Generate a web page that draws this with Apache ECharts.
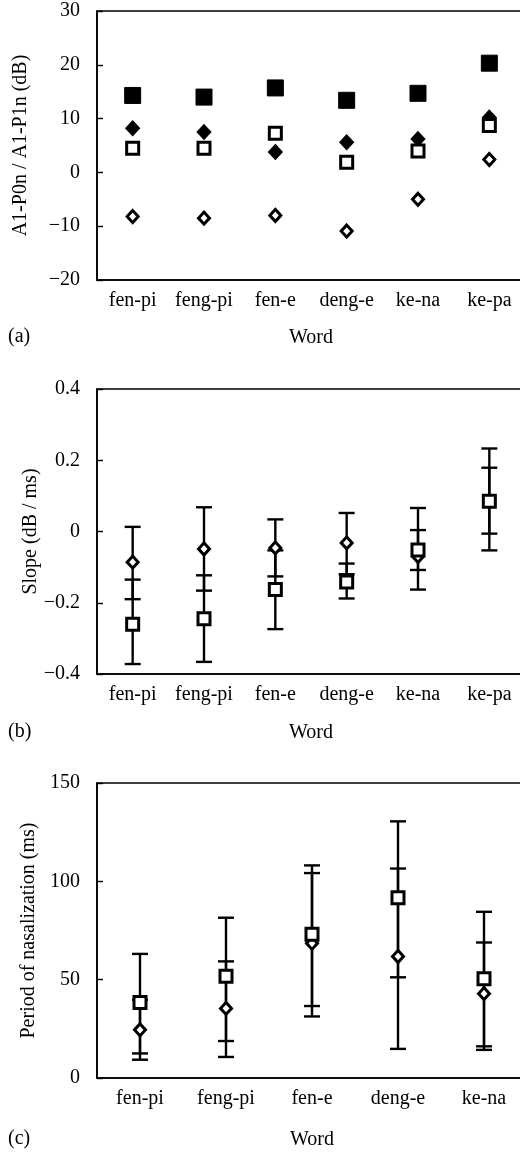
<!DOCTYPE html>
<html>
<head>
<meta charset="utf-8">
<script src="https://cdn.jsdelivr.net/npm/echarts@6/dist/echarts.min.js"></script>
<style>
  html, body { margin: 0; padding: 0; background: #fff; }
  #chart { width: 520px; height: 1153px; }
</style>
</head>
<body>
<div id="chart"></div>
<script>
// ---------- data ----------
const wordsAB = ['fen-pi', 'feng-pi', 'fen-e', 'deng-e', 'ke-na', 'ke-pa'];
const wordsC = ['fen-pi', 'feng-pi', 'fen-e', 'deng-e', 'ke-na'];

// panel (a): A1-P0n / A1-P1n (dB)
const aFilledSquare = [14.3, 14.0, 15.7, 13.4, 14.7, 20.3];
const aFilledDiamond = [8.2, 7.5, 3.8, 5.6, 6.2, 10.2];
const aOpenSquare = [4.5, 4.5, 7.3, 1.9, 4.0, 8.7];
const aOpenDiamond = [-8.2, -8.5, -8.0, -10.9, -5.0, 2.4];

// panel (b): slope (dB/ms), mean with low/high bar ends
const bDiamond = [-0.086, -0.049, -0.046, -0.032, -0.07, 0.085];
const bDiamondLow = [-0.19, -0.166, -0.126, -0.12, -0.163, -0.053];
const bDiamondHigh = [0.013, 0.068, 0.034, 0.052, 0.066, 0.233];
const bSquare = [-0.26, -0.245, -0.163, -0.142, -0.052, 0.085];
const bSquareLow = [-0.372, -0.366, -0.274, -0.188, -0.108, -0.006];
const bSquareHigh = [-0.135, -0.123, -0.053, -0.09, 0.004, 0.179];

// panel (c): period of nasalization (ms)
const cSquare = [38.4, 51.7, 73.1, 91.6, 50.5];
const cSquareLow = [12.5, 18.8, 36.6, 51.2, 16.1];
const cSquareHigh = [63.1, 81.5, 108.1, 130.5, 84.5];
const cDiamond = [24.5, 35.4, 68.5, 61.8, 42.9];
const cDiamondLow = [9.3, 10.7, 31.3, 14.8, 14.3];
const cDiamondHigh = [39.7, 59.3, 104.2, 106.5, 68.9];

// ---------- helpers ----------
const FONT = 'Liberation Serif';
const FS = 20;
const txt = { color: '#000', fontFamily: FONT, fontSize: FS };
const minus = v => String(parseFloat(Number(v).toFixed(2))).replace('-', '\u2212');

function bars(low, high) {
  return low.map((l, i) => [i, l, high[i]]);
}

function errorSeries(idx, low, high) {
  return {
    type: 'custom',
    xAxisIndex: idx, yAxisIndex: idx,
    z: 1,
    silent: true,
    clip: false,
    data: bars(low, high),
    renderItem: function (params, api) {
      const x = api.value(0);
      const lo = api.coord([x, api.value(1)]);
      const hi = api.coord([x, api.value(2)]);
      const hw = 8;
      const style = { stroke: '#000', lineWidth: 2.4 };
      return {
        type: 'group',
        children: [
          { type: 'line', shape: { x1: lo[0], y1: lo[1], x2: hi[0], y2: hi[1] }, style: style },
          { type: 'line', shape: { x1: lo[0] - hw, y1: lo[1], x2: lo[0] + hw, y2: lo[1] }, style: style },
          { type: 'line', shape: { x1: hi[0] - hw, y1: hi[1], x2: hi[0] + hw, y2: hi[1] }, style: style }
        ]
      };
    }
  };
}

function scatter(idx, data, symbol, size, filled, z) {
  return {
    type: 'scatter',
    xAxisIndex: idx, yAxisIndex: idx,
    z: z,
    symbol: symbol,
    symbolSize: size,
    data: data,
    itemStyle: filled
      ? { color: '#000', borderColor: '#000', borderWidth: 1, opacity: 1 }
      : { color: '#fff', borderColor: '#000', borderWidth: 3, opacity: 1 }
  };
}

function xAxis(idx, cats, gap) {
  return {
    gridIndex: idx, type: 'category', data: cats, boundaryGap: true,
    axisLine: { onZero: false, lineStyle: { color: '#000', width: 1.6 } },
    axisTick: { inside: true, alignWithLabel: true, length: 7, lineStyle: { color: '#000', width: 1.4 } },
    axisLabel: Object.assign({ margin: 11, interval: 0 }, txt),
    splitLine: { show: false },
    name: 'Word', nameLocation: 'middle', nameGap: gap, nameMoveOverlap: false,
    nameTextStyle: txt
  };
}

function yAxis(idx, min, max, interval, name, gap) {
  return {
    gridIndex: idx, type: 'value', min: min, max: max, interval: interval,
    axisLine: { show: true, onZero: false, lineStyle: { color: '#000', width: 1.6 } },
    axisTick: { show: true, inside: true, length: 6, lineStyle: { color: '#000', width: 1.4 } },
    axisLabel: Object.assign({ margin: 17, formatter: minus }, txt),
    splitLine: { show: false },
    name: name, nameLocation: 'middle', nameRotate: 90, nameGap: gap, nameMoveOverlap: false,
    nameTextStyle: txt
  };
}

const gridStyle = {
  show: true, borderColor: '#000', borderWidth: 1.6, backgroundColor: 'transparent',
  containLabel: false, outerBoundsMode: 'none'
};

const option = {
  animation: false,
  backgroundColor: '#fff',
  grid: [
    Object.assign({ left: 97, top: 11, height: 269, width: 428 }, gridStyle),
    Object.assign({ left: 97, top: 389, height: 285, width: 428 }, gridStyle),
    Object.assign({ left: 97, top: 783, height: 295, width: 430 }, gridStyle)
  ],
  xAxis: [
    xAxis(0, wordsAB, 48),
    xAxis(1, wordsAB, 49),
    xAxis(2, wordsC, 52)
  ],
  yAxis: [
    yAxis(0, -20, 30, 10, 'A1-P0n / A1-P1n (dB)', 66),
    yAxis(1, -0.4, 0.4, 0.2, 'Slope (dB / ms)', 56),
    yAxis(2, 0, 150, 50, 'Period of nasalization (ms)', 58)
  ],
  graphic: [
    { type: 'text', left: 8, top: 327, style: { text: '(a)', fill: '#000', font: FS + 'px "' + FONT + '"' } },
    { type: 'text', left: 8, top: 722, style: { text: '(b)', fill: '#000', font: FS + 'px "' + FONT + '"' } },
    { type: 'text', left: 8, top: 1129, style: { text: '(c)', fill: '#000', font: FS + 'px "' + FONT + '"' } }
  ],
  series: [
    // panel (a)
    scatter(0, aFilledSquare, 'rect', 16, true, 3),
    scatter(0, aFilledDiamond, 'diamond', [14, 15], true, 3),
    scatter(0, aOpenSquare, 'rect', 12, false, 4),
    scatter(0, aOpenDiamond, 'diamond', [11, 12], false, 4),
    // panel (b)
    errorSeries(1, bDiamondLow, bDiamondHigh),
    errorSeries(1, bSquareLow, bSquareHigh),
    scatter(1, bDiamond, 'diamond', [11, 12], false, 3),
    scatter(1, bSquare, 'rect', 12, false, 4),
    // panel (c)
    errorSeries(2, cDiamondLow, cDiamondHigh),
    errorSeries(2, cSquareLow, cSquareHigh),
    scatter(2, cDiamond, 'diamond', [11, 12], false, 3),
    scatter(2, cSquare, 'rect', 12, false, 4)
  ]
};

const chart = echarts.init(document.getElementById('chart'), null, { renderer: 'canvas' });
chart.setOption(option);
</script>
</body>
</html>
